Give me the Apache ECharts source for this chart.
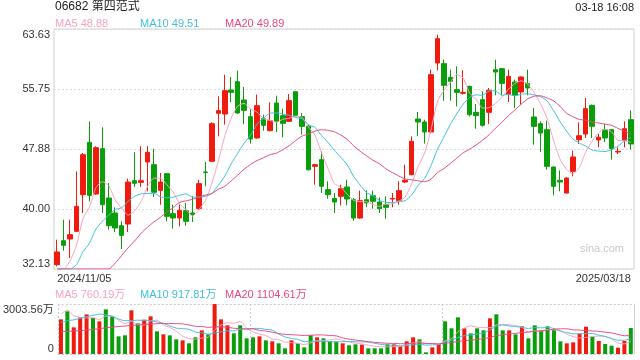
<!DOCTYPE html>
<html><head><meta charset="utf-8">
<script src="https://cdn.jsdelivr.net/npm/echarts@6/dist/echarts.min.js"></script>
<style>html,body{margin:0;padding:0;background:#fff}#c{width:640px;height:360px}</style>
</head><body><div id="c"></div>
<script>
const stockTitle = '06682 第四范式';
const timeStamp = '03-18 16:08';
const watermark = 'sina.com';
const maLegend = ['MA5 48.88', 'MA10 49.51', 'MA20 49.89'];
const volLegend = ['MA5 760.19万', 'MA10 917.81万', 'MA20 1104.61万'];
const priceTicks = [32.125, 40, 47.875, 55.75, 63.625];
const volTicks = [0, 3003.56];

const dates = [
'2024/11/05','2024/11/06','2024/11/07','2024/11/08','2024/11/11','2024/11/12','2024/11/13','2024/11/14','2024/11/15','2024/11/18','2024/11/19','2024/11/20','2024/11/21','2024/11/22','2024/11/25','2024/11/26','2024/11/27','2024/11/28','2024/11/29',
'2024/12/02','2024/12/03','2024/12/04','2024/12/05','2024/12/06','2024/12/09','2024/12/10','2024/12/11','2024/12/12','2024/12/13','2024/12/16','2024/12/17','2024/12/18','2024/12/19','2024/12/20','2024/12/23','2024/12/24','2024/12/27','2024/12/30','2024/12/31',
'2025/01/02','2025/01/03','2025/01/06','2025/01/07','2025/01/08','2025/01/09','2025/01/10','2025/01/13','2025/01/14','2025/01/15','2025/01/16','2025/01/17','2025/01/20','2025/01/21','2025/01/22','2025/01/23','2025/01/24','2025/01/27','2025/01/28',
'2025/02/03','2025/02/04','2025/02/05','2025/02/06','2025/02/07','2025/02/10','2025/02/11','2025/02/12','2025/02/13','2025/02/14','2025/02/17','2025/02/18','2025/02/19','2025/02/20','2025/02/21','2025/02/24','2025/02/25','2025/02/26','2025/02/27','2025/02/28',
'2025/03/03','2025/03/04','2025/03/05','2025/03/06','2025/03/07','2025/03/10','2025/03/11','2025/03/12','2025/03/13','2025/03/14','2025/03/17','2025/03/18'];

const openP = [32.69,35.84,36.06,37.07,41.88,48.75,41.97,47.92,41.44,39.48,
37.81,38.03,43.72,43.50,46.17,45.82,42.45,44.64,39.39,38.82,
39.78,39.48,40.04,44.86,46.26,52.56,52.47,55.62,56.71,54.31,
52.12,49.32,51.86,50.28,53.91,52.25,51.51,55.40,52.12,50.85,
45.60,46.48,42.54,41.39,41.66,42.89,41.22,38.82,41.22,41.75,
40.92,40.57,41.31,41.09,43.54,44.51,51.81,51.42,50.11,59.16,
59.08,57.28,55.66,55.18,56.10,52.69,54.35,52.69,58.29,58.42,
55.01,56.67,55.36,56.45,52.08,51.20,50.41,45.51,43.76,42.10,
44.94,49.10,49.84,53.61,49.06,50.41,50.41,47.48,49.01,51.72];
const closeP = [34.36,35.23,36.63,40.35,47.13,41.79,48.05,40.57,37.81,37.51,
36.54,43.54,43.37,43.72,47.44,42.19,43.54,39.04,38.82,39.83,
38.38,39.26,43.33,44.80,51.20,52.91,55.53,55.31,52.60,52.95,
49.19,53.56,50.98,51.59,51.51,51.24,54.22,52.29,50.85,45.16,
45.82,42.98,41.88,40.92,42.67,41.31,38.82,41.09,40.79,41.01,
40.04,40.22,41.40,42.41,43.76,48.88,51.42,50.11,57.63,62.36,
56.23,56.76,55.31,55.31,52.38,52.25,50.98,55.57,57.98,56.49,
57.41,54.92,57.33,55.88,50.85,49.97,45.60,42.98,43.54,44.07,
46.83,49.62,53.17,50.85,49.41,49.32,47.92,47.57,50.54,48.53];
const lowP = [32.47,34.53,33.57,36.98,39.48,41.01,41.88,39.48,37.29,36.98,
34.75,36.98,42.89,42.89,42.32,41.58,40.57,38.38,37.42,37.72,
37.81,38.29,39.91,42.97,46.17,49.54,51.07,54.04,52.47,51.16,
48.58,49.23,50.28,50.19,50.11,49.41,51.42,52.16,49.76,45.03,
43.19,42.10,41.36,39.48,40.48,40.48,38.47,38.73,40.22,40.04,
39.48,38.73,40.22,40.57,43.41,44.42,49.54,48.58,49.97,58.20,
54.22,54.22,53.48,55.01,52.16,50.54,50.81,51.16,54.92,54.92,
54.04,53.26,53.69,54.92,48.44,47.48,45.16,41.79,42.32,42.01,
44.29,48.53,49.32,49.32,48.09,48.79,46.48,47.22,48.09,47.79];
const highP = [35.97,38.60,38.60,44.94,47.35,51.51,48.23,50.72,43.41,40.22,
38.38,43.98,47.44,48.23,48.23,47.92,44.73,44.73,40.57,40.57,
40.79,41.66,43.85,46.17,51.38,54.79,57.63,57.33,58.16,56.01,
53.13,55.01,52.38,54.00,54.87,53.17,55.09,55.40,52.60,51.07,
45.91,47.57,43.63,42.10,43.19,43.85,41.44,42.41,42.45,42.41,
41.53,41.66,42.10,43.63,45.82,49.54,52.73,51.72,58.29,62.88,
59.60,58.29,58.72,58.20,56.19,53.78,55.44,55.88,59.60,58.51,
58.29,56.98,57.41,58.29,53.26,51.51,51.59,45.60,45.07,44.16,
47.66,51.38,54.57,53.69,49.84,51.16,50.50,48.09,51.51,52.95];

const ma5 = [32.125,32.125,33.2,35.3,38.74,40.23,42.79,43.58,43.07,41.15,
40.10,39.19,39.75,40.94,42.92,44.05,44.05,43.19,42.21,40.68,
39.92,39.07,39.92,41.12,43.39,46.30,49.55,51.95,53.51,53.86,
53.12,52.72,51.86,51.65,51.37,51.78,51.91,52.17,52.02,50.75,
49.67,47.42,45.34,43.35,42.85,41.95,41.12,40.96,40.94,40.60,
40.35,40.63,40.69,41.02,41.57,43.33,45.57,47.32,50.36,54.08,
55.55,56.62,57.66,57.19,55.20,54.40,53.25,53.30,53.83,54.65,
55.69,56.47,56.83,56.41,55.28,53.79,51.93,49.06,46.59,45.23,
44.60,45.41,47.45,48.91,49.98,50.47,50.13,49.01,48.95,48.78];
const ma10 = [32.125,32.125,32.125,32.7,34.4,35.5,37.35,38.4,39.2,39.94,
40.16,40.99,41.67,42.00,42.03,42.07,41.62,41.47,41.57,41.80,
41.99,41.56,41.56,41.66,42.04,43.11,44.31,45.94,47.32,48.63,
49.71,51.14,51.90,52.58,52.61,52.45,52.32,52.01,51.84,51.06,
50.72,49.66,48.75,47.69,46.80,45.81,44.27,43.15,42.14,41.73,
41.15,40.88,40.83,40.98,41.09,41.84,43.10,44.00,45.69,47.82,
49.44,51.10,52.49,53.78,54.64,54.98,54.93,55.48,55.51,54.93,
55.04,54.86,55.06,55.12,54.97,54.74,54.20,52.94,51.50,50.26,
49.20,48.67,48.25,47.75,47.60,47.54,47.77,48.23,48.93,49.38];
const ma20 = [32.125,32.125,32.125,32.125,32.125,32.125,32.125,32.125,32.125,32.9,
33.9,34.9,35.8,36.8,37.6,38.3,38.9,39.6,40.2,40.87,
41.07,41.28,41.61,41.83,42.04,42.59,42.97,43.70,44.44,45.22,
45.85,46.35,46.73,47.12,47.33,47.78,48.31,48.98,49.58,49.84,
50.22,50.40,50.33,50.13,49.71,49.13,48.29,47.58,46.99,46.39,
45.94,45.27,44.79,44.33,43.94,43.83,43.69,43.58,43.92,44.78,
45.30,45.99,46.66,47.38,47.86,48.41,49.02,49.74,50.60,51.37,
52.24,52.98,53.77,54.45,54.80,54.86,54.57,54.21,53.51,52.59,
52.12,51.76,51.66,51.43,51.29,51.14,50.99,50.59,50.21,49.82];

const volume = [2082,2563,1602,2202,2382,2162,1962,2683,2262,1061,
1121,2623,1842,2062,2262,1361,1181,1121,881,821,
641,1001,1421,1181,3003.56,2082,1722,1241,1722,941,
1001,1061,821,761,641,340,821,641,400,1121,
1001,941,761,721,641,521,581,561,340,340,
340,581,581,460,761,1001,881,100,400,581,
1962,1542,2202,1542,1241,1542,1421,2142,2382,1421,
1421,1181,1662,941,1722,1421,1662,1481,761,641,
701,1220,1640,1040,780,600,500,380,781,1560];
const vma5 = [2400,2650,2300,2200,2166,2182,2062,2278,2290,2026,
1818,1950,1782,1742,1982,2030,1742,1597,1361,1073,
929,893,953,1013,1450,1738,1882,1846,1954,1542,
1325,1193,1109,917,857,725,677,641,569,665,
797,821,845,909,813,717,645,605,529,469,
432,432,436,460,545,677,737,641,629,593,
785,917,1337,1566,1698,1614,1590,1578,1746,1782,
1757,1709,1613,1325,1385,1385,1482,1445,1409,1193,
1049,961,993,1048,1076,1056,912,660,608,764];
const vma10 = [1900,2000,2050,2150,2250,2320,2400,2350,2250,2096,
2000,2006,2030,2016,2004,1924,1846,1690,1552,1528,
1480,1317,1275,1187,1261,1333,1388,1400,1484,1496,
1532,1538,1478,1436,1199,1025,935,875,743,761,
761,749,743,739,739,757,733,725,719,641,
575,539,521,495,507,555,585,539,545,569,
731,827,989,1097,1145,1199,1253,1458,1656,1740,
1686,1650,1596,1535,1584,1571,1596,1529,1367,1289,
1217,1221,1219,1229,1135,1053,936,826,828,920];
const vma20 = [1340,1360,1380,1400,1430,1480,1520,1570,1620,1650,
1680,1720,1740,1770,1800,1820,1830,1830,1820,1812,
1740,1662,1653,1602,1633,1629,1617,1545,1518,1512,
1506,1427,1376,1311,1230,1179,1161,1137,1113,1128,
1146,1143,1110,1087,969,891,834,800,731,701,
668,644,632,617,623,656,659,632,632,605,
653,683,755,796,826,877,919,998,1100,1154,
1208,1238,1292,1316,1364,1385,1424,1493,1512,1515,
1451,1435,1407,1382,1359,1312,1266,1178,1098,1105];

const FONT = '"Liberation Sans", Arial, "Noto Sans CJK SC", sans-serif';
const UP = '#f01b0e', DOWN = '#0a9e0a';
const C5 = '#f7a3bf', C10 = '#40c0df', C20 = '#e8497f';
const GRID_LINE = '#dcdcdc', BORDER = '#cfcfcf';
const n = dates.length;
const pMin = priceTicks[0], pMax = priceTicks[priceTicks.length - 1];
const vMax = volTicks[volTicks.length - 1];

const ohlc = dates.map((d, i) => [openP[i], closeP[i], lowP[i], highP[i]]);
const volData = volume.map((v, i) => ({ value: v, itemStyle: { color: closeP[i] >= openP[i] ? UP : DOWN } }));

const lab = { color: '#333', fontSize: 11, fontFamily: FONT };
const noLine = { axisLine: { show: false }, axisTick: { show: false }, splitLine: { show: false } };

function maLine(name, data, color, xi, yi) {
  return { name, type: 'line', xAxisIndex: xi, yAxisIndex: yi, data, symbol: 'none', showSymbol: false,
    smooth: 0.2, lineStyle: { color, width: 1 }, itemStyle: { color }, z: 4, silent: true };
}
function txt(x, y, text, fill, size, align) {
  return { type: 'text', x, y, silent: true,
    style: { text, fill, font: size + 'px ' + FONT, align: align || 'left', verticalAlign: 'middle',
      textAlign: align || 'left', textVerticalAlign: 'middle' } };
}

const chart = echarts.init(document.getElementById('c'), null, { renderer: 'canvas' });
chart.setOption({
  animation: false,
  backgroundColor: '#fff',
  textStyle: { fontFamily: FONT },
  grid: [
    { left: 54, right: 6, top: 29, height: 240, show: true, borderColor: BORDER, borderWidth: 1 },
    { left: 54, right: 6, top: 304, height: 50 }
  ],
  xAxis: [
    { type: 'category', gridIndex: 0, data: dates, position: 'bottom', ...noLine,
      axisLabel: { ...lab, margin: 4, align: 'left', interval: (i) => i === 0 } },
    { type: 'category', gridIndex: 0, data: dates, position: 'bottom', ...noLine,
      axisLabel: { ...lab, margin: 4, align: 'right', interval: (i) => i === n - 1 } },
    { type: 'category', gridIndex: 1, data: dates, position: 'bottom',
      axisLine: { show: false }, axisTick: { show: false }, axisLabel: { show: false },
      splitLine: { show: true, interval: (i) => i % 30 === 0, lineStyle: { color: '#cccccc', type: [2, 2] } } }
  ],
  yAxis: [
    { type: 'value', gridIndex: 0, min: pMin, max: pMax, position: 'left',
      axisLine: { show: false }, axisTick: { show: false, customValues: priceTicks },
      splitLine: { show: true, lineStyle: { color: GRID_LINE, type: [2, 2] } },
      axisLabel: { ...lab, margin: 4, customValues: priceTicks.slice(1, -1), formatter: (v) => v.toFixed(2) } },
    { type: 'value', gridIndex: 0, min: pMin, max: pMax, position: 'left', ...noLine,
      axisLabel: { ...lab, margin: 4, customValues: [pMax], verticalAlign: 'top', formatter: (v) => v.toFixed(2) } },
    { type: 'value', gridIndex: 0, min: pMin, max: pMax, position: 'left', ...noLine,
      axisLabel: { ...lab, margin: 4, customValues: [pMin], verticalAlign: 'bottom', formatter: (v) => v.toFixed(2) } },
    { type: 'value', gridIndex: 1, min: 0, max: vMax, position: 'left',
      axisLine: { show: false }, axisTick: { show: false, customValues: volTicks },
      splitLine: { show: true, lineStyle: { color: '#cccccc', type: [2, 2] } },
      axisLabel: { ...lab, margin: 4, customValues: [vMax], verticalAlign: 'top', formatter: (v) => v.toFixed(2) + '万' } },
    { type: 'value', gridIndex: 1, min: 0, max: vMax, position: 'left', ...noLine,
      axisLabel: { ...lab, margin: 4, customValues: [0], verticalAlign: 'bottom', formatter: () => '0' } },
    { type: 'value', gridIndex: 1, min: 0, max: vMax, position: 'right',
      axisLine: { show: true, lineStyle: { color: BORDER, width: 1 } }, axisTick: { show: false },
      splitLine: { show: false }, axisLabel: { show: false } }
  ],
  series: [
    { name: 'K', type: 'candlestick', xAxisIndex: 0, yAxisIndex: 0, data: ohlc, barWidth: 5, silent: true,
      itemStyle: { color: UP, color0: DOWN, borderColor: UP, borderColor0: DOWN, borderWidth: 1 } },
    maLine('MA5', ma5, C5, 0, 0),
    maLine('MA10', ma10, C10, 0, 0),
    maLine('MA20', ma20, C20, 0, 0),
    { name: 'VOL', type: 'bar', xAxisIndex: 2, yAxisIndex: 3, data: volData, barWidth: 4, silent: true },
    maLine('VMA5', vma5, C5, 2, 3),
    maLine('VMA10', vma10, C10, 2, 3),
    maLine('VMA20', vma20, C20, 2, 3)
  ],
  graphic: [
    txt(55, 7, stockTitle, '#222', 12),
    txt(634, 8, timeStamp, '#222', 11, 'right'),
    txt(55, 24, maLegend[0], C5, 11),
    txt(140, 24, maLegend[1], C10, 11),
    txt(225, 24, maLegend[2], C20, 11),
    txt(55, 295, volLegend[0], C5, 11),
    txt(140, 295, volLegend[1], C10, 11),
    txt(225, 295, volLegend[2], C20, 11),
    txt(602, 249, watermark, '#c8c8c8', 11, 'center')
  ]
});
</script>
</body></html>
